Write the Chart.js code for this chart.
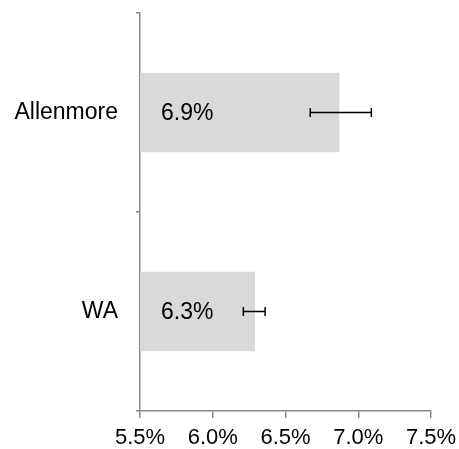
<!DOCTYPE html>
<html lang="en">
<head>
  <meta charset="UTF-8">
  <title>Allenmore vs WA</title>
  <script src="https://cdn.jsdelivr.net/npm/chart.js"></script>
  <style>
    html, body { margin: 0; padding: 0; background: #fff; }
    #wrap { width: 459px; height: 449px; }
  </style>
</head>
<body>
  <div id="wrap"><canvas id="barChart"></canvas></div>

  <script>
    const categories = ["Allenmore", "WA"];
    const values = [6.87, 6.29];
    const errLow = [6.67, 6.21];
    const errHigh = [7.09, 6.36];
    const xTicks = [5.5, 6.0, 6.5, 7.0, 7.5];

    const family = "'Liberation Sans', Arial, sans-serif";
    const axisColor = "#888888";

    // error bars + value labels drawn on top of bars
    const extras = {
      id: "extras",
      afterDatasetsDraw(chart) {
        const ctx = chart.ctx;
        const xs = chart.scales.x;
        const ys = chart.scales.y;
        const base = xs.getPixelForValue(xs.min);
        values.forEach((v, i) => {
          const y = ys.getPixelForValue(i);
          const x1 = xs.getPixelForValue(errLow[i]);
          const x2 = xs.getPixelForValue(errHigh[i]);
          ctx.save();
          ctx.strokeStyle = "#000";
          ctx.lineWidth = 1.5;
          ctx.beginPath();
          ctx.moveTo(x1, y); ctx.lineTo(x2, y);
          ctx.moveTo(x1, y - 4.5); ctx.lineTo(x1, y + 4.5);
          ctx.moveTo(x2, y - 4.5); ctx.lineTo(x2, y + 4.5);
          ctx.stroke();

          ctx.fillStyle = "#000";
          ctx.font = "23px " + family;
          ctx.textAlign = "left";
          ctx.textBaseline = "middle";
          ctx.fillText(v.toFixed(1) + "%", base + 21, y + 1);
          ctx.restore();
        });
      }
    };

    new Chart(document.getElementById("barChart"), {
      type: "bar",
      data: {
        labels: categories,
        datasets: [{
          data: values,
          backgroundColor: "#d9d9d9",
          borderWidth: 0,
          barPercentage: 0.4,
          categoryPercentage: 1.0
        }]
      },
      plugins: [extras],
      options: {
        indexAxis: "y",
        responsive: true,
        maintainAspectRatio: false,
        animation: false,
        layout: { padding: { top: 13, right: 28, left: 0, bottom: 0 } },
        plugins: {
          legend: { display: false },
          tooltip: { enabled: false }
        },
        scales: {
          x: {
            min: 5.5,
            max: 7.5,
            afterBuildTicks: s => { s.ticks = xTicks.map(v => ({ value: v })); },
            afterFit: s => { s.height = 38; s.paddingLeft = 0; s.paddingRight = 0; },
            border: { color: axisColor, width: 1.5 },
            grid: { drawOnChartArea: false, color: axisColor, lineWidth: 1.5, tickLength: 7 },
            ticks: {
              color: "#000",
              font: { family, size: 22 },
              padding: 7,
              maxRotation: 0,
              callback: v => Number(v).toFixed(1) + "%"
            }
          },
          y: {
            afterFit: s => { s.width = 140; s.paddingTop = 0; s.paddingBottom = 0; },
            border: { color: axisColor, width: 1.5 },
            grid: { drawOnChartArea: false, color: axisColor, lineWidth: 1.5, tickLength: 4 },
            ticks: { color: "#000", font: { family, size: 23 }, padding: 18 }
          }
        }
      }
    });
  </script>
</body>
</html>
